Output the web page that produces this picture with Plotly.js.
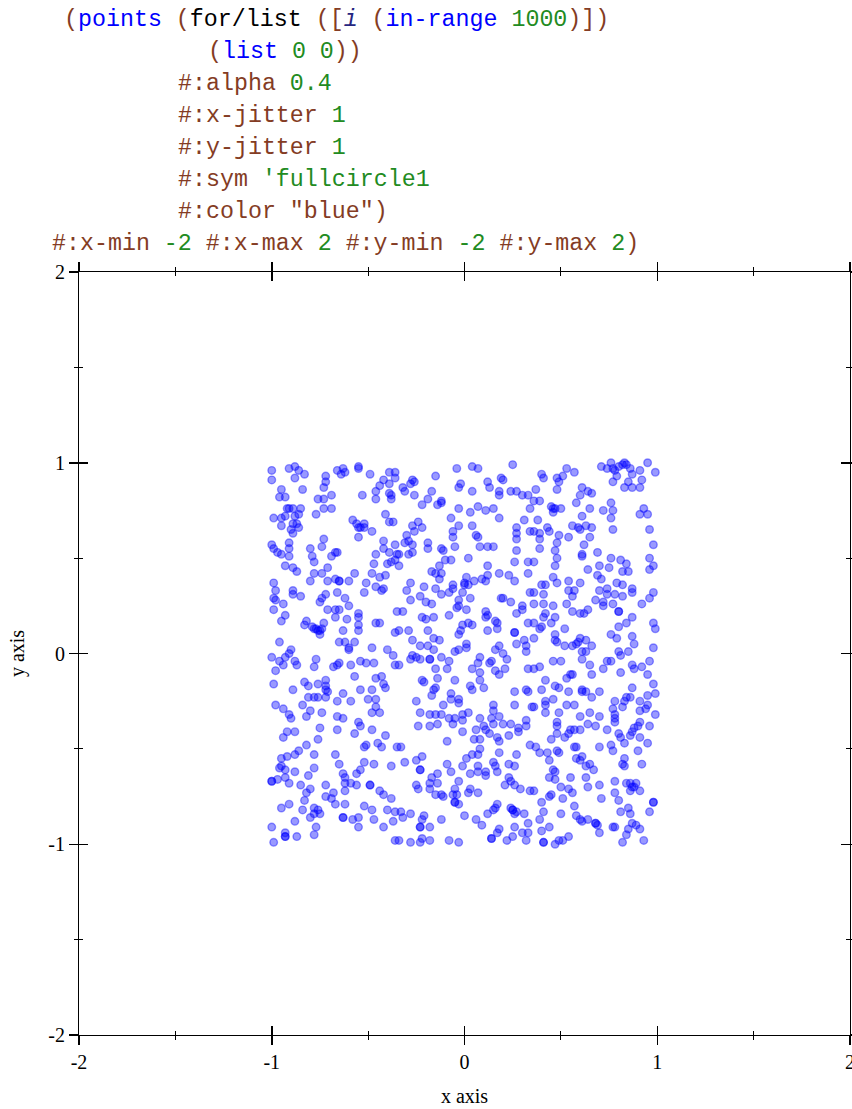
<!DOCTYPE html>
<html>
<head>
<meta charset="utf-8">
<script src="https://cdn.plot.ly/plotly-3.0.1.min.js"></script>
<style>
  html, body { margin: 0; padding: 0; background: #fff; }
  #wrap { position: relative; width: 852px; height: 1109px; overflow: hidden; }
  #plot { position: absolute; left: 0; top: 0; width: 852px; height: 1109px; }
  .code { position: absolute; white-space: pre; font-family: 'Liberation Mono', 'DejaVu Sans Mono', monospace; font-size: 23.3px; line-height: 32px; z-index: 5; }
  .pn { color: #843c24; }
  .sym { color: #0000ff; }
  .blk { color: #000000; }
  .var { color: #262680; font-style: italic; }
  .val { color: #228b22; }
</style>
</head>
<body>
<div id="wrap">
  <div id="plot"></div>
  <div class="code" style="left:64px; top:4px;"><span class="pn">(</span><span class="sym">points</span> <span class="pn">(</span><span class="blk">for/list</span> <span class="pn">([</span><span class="var">i</span> <span class="pn">(</span><span class="sym">in-range</span> <span class="val">1000</span><span class="pn">)])</span></div>
  <div class="code" style="left:208px; top:36px;"><span class="pn">(</span><span class="sym">list</span> <span class="val">0 0</span><span class="pn">))</span></div>
  <div class="code" style="left:178px; top:68px;"><span class="pn">#:alpha</span> <span class="val">0.4</span></div>
  <div class="code" style="left:178px; top:100px;"><span class="pn">#:x-jitter</span> <span class="val">1</span></div>
  <div class="code" style="left:178px; top:132px;"><span class="pn">#:y-jitter</span> <span class="val">1</span></div>
  <div class="code" style="left:178px; top:164px;"><span class="pn">#:sym</span> <span class="val">'fullcircle1</span></div>
  <div class="code" style="left:178px; top:196px;"><span class="pn">#:color "blue")</span></div>
  <div class="code" style="left:52px; top:228px;"><span class="pn">#:x-min</span> <span class="val">-2</span> <span class="pn">#:x-max</span> <span class="val">2</span> <span class="pn">#:y-min</span> <span class="val">-2</span> <span class="pn">#:y-max</span> <span class="val">2</span><span class="pn">)</span></div>
</div>
<script>
// Axis ticks
const majorTicks = [-2, -1, 0, 1, 2];
const majorLabels = ['-2', '-1', '0', '1', '2'];
const minorTicks = [-1.5, -0.5, 0.5, 1.5];

// Points, region by region: [x, y]
const topLeft = [[-1.00,0.96],[-1.00,0.91],[-0.91,0.97],[-0.88,0.98],[-0.86,0.96],[-0.83,0.94],[-0.88,0.92],[-0.72,0.93],[-0.73,0.87],[-0.72,0.90],[-0.66,0.96],[-0.63,0.97],[-0.62,0.95],[-0.64,0.94],[-0.55,0.97],[-0.55,0.98],[-0.49,0.94],[-0.39,0.95],[-0.36,0.95],[-0.42,0.91],[-0.36,0.92],[-0.44,0.88],[-0.39,0.89],[-0.46,0.85],[-0.46,0.81],[-0.39,0.84],[-0.38,0.83],[-0.38,0.81],[-0.53,0.83],[-0.84,0.86],[-0.95,0.86],[-0.96,0.82],[-0.93,0.82],[-0.69,0.83],[-0.76,0.81],[-0.73,0.81],[-0.73,0.76],[-0.69,0.76],[-0.92,0.76],[-0.91,0.76],[-0.89,0.76],[-0.85,0.76],[-0.99,0.71],[-0.95,0.71],[-0.93,0.72],[-0.88,0.72],[-0.86,0.73],[-0.77,0.73],[-0.95,0.67],[-0.89,0.68],[-0.87,0.68],[-0.90,0.65],[-0.86,0.66],[-0.89,0.63],[-0.58,0.70],[-0.56,0.68],[-0.54,0.66],[-0.52,0.68],[-0.55,0.66],[-0.52,0.66],[-0.48,0.64],[-0.55,0.61],[-0.41,0.73],[-0.39,0.69],[-0.37,0.69],[-0.73,0.60],[-1.00,0.57],[-0.99,0.55],[-0.97,0.53],[-0.95,0.52],[-0.91,0.51],[-0.91,0.58],[-0.91,0.55],[-0.80,0.55],[-0.74,0.56],[-0.79,0.51],[-0.78,0.48],[-0.69,0.51],[-0.67,0.53],[-0.66,0.53],[-0.93,0.46],[-0.89,0.45],[-0.87,0.43],[-0.78,0.42],[-0.74,0.42],[-0.71,0.45],[-0.57,0.42],[-0.48,0.42],[-0.47,0.47],[-0.46,0.52],[-0.42,0.59],[-0.42,0.55],[-0.36,0.57],[-0.39,0.53],[-0.35,0.52],[-0.38,0.48],[-0.36,0.49],[-0.40,0.47],[-0.44,0.40],[-0.41,0.41],[-0.99,0.37],[-0.80,0.38],[-0.71,0.38],[-0.67,0.39],[-0.65,0.38],[-0.65,0.38],[-0.60,0.38],[-0.51,0.37],[-0.46,0.35],[-0.42,0.34]];

const topMid = [[0.25,0.99],[-0.04,0.97],[0.04,0.98],[0.07,0.97],[-0.15,0.93],[-0.27,0.91],[-0.26,0.90],[-0.28,0.89],[-0.32,0.87],[-0.31,0.85],[-0.26,0.83],[-0.17,0.85],[-0.19,0.81],[-0.22,0.78],[-0.14,0.78],[-0.12,0.80],[-0.12,0.79],[-0.02,0.89],[-0.03,0.87],[0.04,0.85],[0.12,0.90],[0.13,0.87],[0.19,0.92],[0.20,0.91],[0.18,0.85],[0.18,0.83],[0.24,0.85],[0.27,0.85],[0.30,0.83],[0.33,0.83],[0.34,0.76],[-0.03,0.76],[0.03,0.74],[0.07,0.77],[0.11,0.75],[0.15,0.76],[0.18,0.71],[0.31,0.70],[-0.07,0.71],[-0.24,0.69],[-0.27,0.67],[-0.22,0.66],[-0.26,0.64],[-0.30,0.62],[-0.03,0.67],[-0.06,0.64],[-0.06,0.61],[0.04,0.67],[0.06,0.62],[0.07,0.61],[0.27,0.66],[0.27,0.63],[0.27,0.60],[0.34,0.64],[-0.29,0.59],[-0.31,0.58],[-0.27,0.57],[-0.19,0.58],[-0.19,0.55],[-0.12,0.55],[-0.11,0.54],[-0.05,0.56],[0.08,0.56],[0.12,0.56],[0.15,0.56],[-0.34,0.52],[-0.29,0.52],[-0.27,0.53],[-0.10,0.49],[-0.07,0.49],[0.02,0.50],[0.27,0.54],[0.26,0.48],[0.33,0.48],[-0.34,0.46],[-0.13,0.46],[-0.17,0.43],[-0.15,0.42],[-0.12,0.42],[-0.13,0.39],[0.12,0.46],[0.12,0.41],[0.18,0.42],[0.23,0.41],[0.33,0.42],[0.26,0.38],[0.01,0.40],[0.09,0.39],[0.11,0.38],[0.05,0.38],[0.00,0.37],[0.00,0.36],[0.02,0.36],[-0.06,0.36],[-0.28,0.37],[-0.21,0.35],[-0.15,0.34]];

const topRight = [[0.95,1.00],[0.99,0.95],[0.71,0.98],[0.76,1.00],[0.77,0.97],[0.78,0.96],[0.80,0.98],[0.83,1.00],[0.84,0.99],[0.82,0.99],[0.74,0.97],[0.86,0.97],[0.91,0.96],[0.87,0.94],[0.79,0.93],[0.85,0.90],[0.77,0.90],[0.83,0.87],[0.87,0.87],[0.91,0.87],[0.92,0.91],[0.53,0.97],[0.57,0.95],[0.40,0.94],[0.41,0.92],[0.48,0.92],[0.51,0.93],[0.49,0.90],[0.48,0.86],[0.37,0.86],[0.61,0.87],[0.64,0.85],[0.66,0.84],[0.60,0.83],[0.36,0.80],[0.39,0.80],[0.45,0.77],[0.47,0.76],[0.46,0.76],[0.46,0.74],[0.50,0.76],[0.58,0.79],[0.65,0.76],[0.72,0.75],[0.76,0.79],[0.77,0.75],[0.76,0.71],[0.93,0.76],[0.91,0.73],[0.95,0.73],[0.38,0.70],[0.61,0.72],[0.43,0.66],[0.44,0.64],[0.39,0.63],[0.36,0.64],[0.49,0.62],[0.56,0.67],[0.59,0.66],[0.63,0.67],[0.66,0.66],[0.60,0.65],[0.54,0.61],[0.65,0.61],[0.77,0.65],[0.96,0.65],[0.39,0.60],[0.48,0.58],[0.47,0.54],[0.39,0.55],[0.62,0.57],[0.98,0.57],[0.61,0.51],[0.61,0.52],[0.69,0.53],[0.48,0.50],[0.47,0.46],[0.76,0.50],[0.81,0.49],[0.84,0.47],[0.96,0.50],[0.98,0.46],[0.96,0.44],[0.70,0.46],[0.75,0.45],[0.64,0.44],[0.82,0.43],[0.85,0.43],[0.69,0.41],[0.71,0.39],[0.46,0.40],[0.48,0.37],[0.54,0.38],[0.60,0.37],[0.40,0.36],[0.42,0.36],[0.79,0.37],[0.82,0.36],[0.74,0.34],[0.87,0.34],[0.36,0.48]];

const midLeft = [[-0.98,0.33],[-0.89,0.33],[-0.89,0.31],[-0.85,0.30],[-0.99,0.29],[-0.98,0.28],[-0.94,0.26],[-0.99,0.23],[-0.93,0.20],[-0.95,0.17],[-0.72,0.31],[-0.74,0.29],[-0.75,0.27],[-0.66,0.32],[-0.62,0.29],[-0.60,0.25],[-0.52,0.32],[-0.43,0.33],[-0.71,0.23],[-0.67,0.23],[-0.65,0.23],[-0.67,0.19],[-0.61,0.18],[-0.55,0.21],[-0.55,0.19],[-0.55,0.15],[-0.55,0.12],[-0.46,0.16],[-0.44,0.16],[-0.35,0.22],[-0.36,0.11],[-0.82,0.17],[-0.83,0.15],[-0.79,0.14],[-0.78,0.13],[-0.77,0.13],[-0.76,0.12],[-0.75,0.12],[-0.74,0.13],[-0.73,0.16],[-0.75,0.10],[-0.63,0.12],[-0.96,0.06],[-0.65,0.06],[-0.62,0.06],[-0.57,0.06],[-0.60,0.02],[-0.60,0.03],[-0.48,0.03],[-0.40,0.02],[-0.37,-0.01],[-0.36,-0.06],[-1.00,-0.02],[-0.90,0.02],[-0.91,0.00],[-0.93,-0.02],[-0.96,-0.04],[-0.94,-0.06],[-0.88,-0.04],[-0.87,-0.06],[-0.77,-0.03],[-0.78,-0.07],[-0.68,-0.07],[-0.66,-0.06],[-0.65,-0.05],[-0.59,-0.06],[-0.54,-0.04],[-0.51,-0.05],[-0.47,-0.05],[-0.98,-0.09],[-0.57,-0.12],[-0.99,-0.16],[-0.89,-0.19],[-0.83,-0.15],[-0.81,-0.17],[-0.76,-0.16],[-0.72,-0.14],[-0.72,-0.17],[-0.72,-0.19],[-0.71,-0.20],[-0.46,-0.13],[-0.43,-0.12],[-0.42,-0.16],[-0.41,-0.18],[-0.54,-0.19],[-0.48,-0.19],[-0.63,-0.21],[-0.66,-0.25],[-0.59,-0.25],[-0.81,-0.23],[-0.78,-0.23],[-0.76,-0.23],[-0.72,-0.23],[-0.50,-0.24],[-0.46,-0.24],[-0.46,-0.28],[-0.48,-0.31],[-0.44,-0.31],[-0.98,-0.27],[-0.94,-0.29],[-0.84,-0.27],[-0.80,-0.30],[-0.74,-0.31],[-0.91,-0.32],[-0.90,-0.34],[-0.82,-0.33],[-0.66,-0.33],[-0.63,-0.34],[-0.55,-0.36]];

const midMid = [[-0.30,0.33],[-0.23,0.30],[-0.28,0.28],[-0.20,0.27],[-0.17,0.26],[-0.12,0.31],[-0.08,0.32],[-0.06,0.34],[-0.01,0.32],[0.03,0.29],[-0.03,0.28],[-0.03,0.25],[-0.04,0.24],[0.01,0.23],[0.19,0.29],[0.20,0.29],[0.24,0.27],[0.30,0.25],[0.30,0.23],[0.27,0.21],[0.34,0.32],[-0.32,0.22],[-0.22,0.19],[-0.20,0.18],[-0.16,0.19],[-0.08,0.20],[0.11,0.22],[0.12,0.20],[0.11,0.19],[0.16,0.17],[0.17,0.16],[0.17,0.13],[0.04,0.15],[0.02,0.16],[-0.01,0.15],[-0.02,0.12],[-0.03,0.10],[0.12,0.12],[0.26,0.11],[0.26,0.11],[0.33,0.16],[-0.34,0.12],[-0.29,0.12],[-0.19,0.12],[-0.27,0.07],[-0.16,0.08],[-0.13,0.07],[-0.23,0.04],[-0.19,0.04],[-0.16,0.02],[0.01,0.05],[0.01,0.03],[-0.03,0.02],[-0.05,0.01],[0.31,0.07],[0.32,0.04],[0.32,0.01],[0.27,0.05],[0.18,0.04],[0.16,0.02],[0.20,0.00],[0.22,-0.03],[-0.27,-0.01],[-0.25,-0.02],[-0.28,-0.03],[-0.23,-0.03],[-0.18,-0.03],[-0.18,-0.03],[-0.12,-0.02],[-0.08,-0.04],[0.08,-0.02],[0.07,-0.05],[0.04,-0.08],[0.13,-0.05],[0.14,-0.04],[0.16,-0.09],[0.21,-0.08],[0.33,-0.08],[-0.34,-0.06],[-0.15,-0.08],[-0.09,-0.08],[0.08,-0.10],[0.18,-0.11],[0.08,-0.14],[0.10,-0.18],[0.03,-0.17],[0.04,-0.19],[-0.14,-0.13],[-0.22,-0.14],[-0.21,-0.15],[-0.05,-0.14],[-0.15,-0.18],[-0.16,-0.19],[-0.17,-0.22],[0.26,-0.20],[0.32,-0.19],[0.33,-0.20],[-0.07,-0.21],[-0.07,-0.24],[-0.03,-0.24],[-0.03,-0.26],[-0.11,-0.27],[-0.25,-0.25],[0.15,-0.27],[0.15,-0.30],[0.26,-0.27],[0.35,-0.28],[-0.23,-0.31],[-0.18,-0.32],[-0.15,-0.32],[-0.12,-0.32],[-0.08,-0.34],[-0.05,-0.34],[-0.01,-0.32],[0.02,-0.31],[-0.01,-0.35],[0.08,-0.34],[0.14,-0.34],[0.18,-0.33],[0.32,-0.35]];

const midRight = [[0.36,0.32],[0.41,0.31],[0.54,0.33],[0.56,0.30],[0.57,0.33],[0.70,0.33],[0.74,0.31],[0.78,0.31],[0.82,0.30],[0.87,0.32],[0.98,0.32],[0.96,0.29],[0.36,0.26],[0.41,0.26],[0.46,0.25],[0.53,0.26],[0.68,0.28],[0.72,0.27],[0.72,0.25],[0.77,0.26],[0.92,0.26],[0.42,0.21],[0.41,0.19],[0.47,0.19],[0.56,0.22],[0.60,0.21],[0.62,0.21],[0.64,0.23],[0.80,0.22],[0.80,0.22],[0.87,0.19],[0.84,0.16],[0.80,0.14],[0.98,0.16],[0.99,0.13],[0.36,0.16],[0.40,0.14],[0.39,0.13],[0.45,0.16],[0.52,0.13],[0.47,0.10],[0.47,0.07],[0.48,0.06],[0.36,0.08],[0.52,0.04],[0.56,0.04],[0.58,0.05],[0.59,0.06],[0.60,0.08],[0.63,0.07],[0.66,0.04],[0.61,0.01],[0.61,-0.03],[0.63,0.01],[0.76,0.10],[0.79,0.08],[0.87,0.09],[0.88,0.05],[0.98,0.03],[0.80,0.01],[0.81,-0.01],[0.85,0.01],[0.96,-0.04],[0.46,-0.04],[0.50,-0.04],[0.39,-0.07],[0.36,-0.08],[0.65,-0.06],[0.74,-0.04],[0.76,-0.04],[0.72,-0.08],[0.87,-0.06],[0.88,-0.08],[0.92,-0.07],[0.81,-0.10],[0.95,-0.11],[0.66,-0.11],[0.53,-0.13],[0.55,-0.11],[0.56,-0.11],[0.42,-0.14],[0.47,-0.17],[0.49,-0.18],[0.40,-0.19],[0.54,-0.20],[0.61,-0.19],[0.61,-0.20],[0.63,-0.20],[0.70,-0.20],[0.87,-0.18],[0.98,-0.16],[0.99,-0.21],[0.95,-0.22],[0.46,-0.24],[0.42,-0.25],[0.42,-0.27],[0.53,-0.27],[0.57,-0.27],[0.66,-0.23],[0.78,-0.25],[0.84,-0.23],[0.86,-0.23],[0.83,-0.25],[0.82,-0.28],[0.91,-0.25],[0.95,-0.27],[0.94,-0.29],[0.36,-0.28],[0.42,-0.31],[0.49,-0.31],[0.60,-0.33],[0.65,-0.31],[0.70,-0.33],[0.77,-0.29],[0.78,-0.32],[0.78,-0.34],[0.91,-0.30],[0.99,-0.32],[0.91,-0.36],[0.48,-0.36]];

const botLeft = [[-0.75,-0.39],[-0.66,-0.40],[-0.54,-0.38],[-0.57,-0.42],[-0.48,-0.40],[-0.92,-0.41],[-0.88,-0.41],[-0.94,-0.44],[-0.76,-0.45],[-0.41,-0.43],[-0.45,-0.47],[-0.43,-0.49],[-0.52,-0.49],[-0.51,-0.48],[-0.35,-0.49],[-0.82,-0.48],[-0.86,-0.51],[-0.88,-0.53],[-0.95,-0.55],[-0.92,-0.54],[-0.78,-0.53],[-0.67,-0.53],[-0.65,-0.58],[-0.95,-0.59],[-0.96,-0.60],[-0.93,-0.61],[-0.78,-0.60],[-0.81,-0.64],[-0.88,-0.62],[-0.52,-0.57],[-0.47,-0.58],[-0.38,-0.59],[-0.54,-0.61],[-0.56,-0.63],[-0.63,-0.63],[-0.62,-0.65],[-0.62,-0.68],[-0.59,-0.68],[-0.56,-0.69],[-0.49,-0.69],[-0.49,-0.69],[-1.00,-0.67],[-1.00,-0.67],[-0.97,-0.66],[-0.93,-0.65],[-0.91,-0.68],[-0.85,-0.69],[-0.72,-0.69],[-0.80,-0.71],[-0.82,-0.73],[-0.83,-0.77],[-0.72,-0.75],[-0.68,-0.73],[-0.69,-0.76],[-0.67,-0.79],[-0.62,-0.72],[-0.62,-0.79],[-0.44,-0.72],[-0.42,-0.74],[-0.38,-0.76],[-0.91,-0.79],[-0.95,-0.81],[-0.84,-0.82],[-0.78,-0.81],[-0.76,-0.82],[-0.75,-0.84],[-0.78,-0.84],[-0.80,-0.86],[-0.52,-0.80],[-0.48,-0.82],[-0.63,-0.86],[-0.63,-0.86],[-0.58,-0.87],[-0.55,-0.86],[-0.55,-0.91],[-0.47,-0.87],[-0.40,-0.82],[-0.36,-0.83],[-0.37,-0.88],[-0.42,-0.91],[-0.88,-0.88],[-1.00,-0.91],[-0.77,-0.91],[-0.93,-0.94],[-0.93,-0.96],[-0.93,-0.96],[-0.87,-0.96],[-0.78,-0.95],[-0.99,-0.99],[-0.36,-0.98]];

const botMid = [[-0.24,-0.38],[-0.18,-0.38],[-0.14,-0.37],[-0.06,-0.37],[0.06,-0.40],[0.10,-0.38],[0.11,-0.40],[0.15,-0.37],[0.20,-0.37],[0.24,-0.37],[0.28,-0.39],[0.32,-0.38],[-0.01,-0.41],[0.13,-0.42],[0.17,-0.44],[0.18,-0.46],[0.23,-0.43],[0.28,-0.41],[0.05,-0.45],[0.08,-0.45],[-0.09,-0.46],[-0.33,-0.49],[0.34,-0.48],[0.08,-0.50],[0.07,-0.53],[0.04,-0.53],[0.01,-0.55],[0.18,-0.52],[0.27,-0.53],[-0.31,-0.57],[-0.25,-0.56],[-0.22,-0.54],[-0.23,-0.61],[-0.23,-0.61],[-0.09,-0.58],[-0.07,-0.62],[-0.01,-0.59],[0.07,-0.59],[0.07,-0.62],[0.11,-0.62],[0.11,-0.64],[0.16,-0.59],[0.17,-0.62],[0.15,-0.57],[0.23,-0.58],[0.26,-0.59],[0.03,-0.63],[-0.14,-0.63],[-0.17,-0.65],[-0.18,-0.68],[-0.14,-0.68],[-0.25,-0.69],[-0.24,-0.71],[-0.18,-0.71],[-0.03,-0.67],[-0.05,-0.71],[0.23,-0.65],[0.24,-0.67],[0.21,-0.69],[0.26,-0.69],[0.29,-0.71],[0.34,-0.72],[-0.15,-0.74],[-0.12,-0.74],[-0.11,-0.75],[-0.06,-0.74],[-0.04,-0.74],[0.02,-0.73],[0.03,-0.71],[0.07,-0.73],[-0.05,-0.78],[-0.05,-0.78],[-0.03,-0.79],[-0.33,-0.83],[-0.28,-0.84],[-0.32,-0.86],[-0.21,-0.85],[-0.22,-0.87],[-0.23,-0.91],[-0.23,-0.91],[-0.18,-0.91],[-0.12,-0.87],[0.00,-0.85],[0.06,-0.87],[0.09,-0.90],[0.12,-0.84],[0.15,-0.82],[0.17,-0.79],[0.16,-0.81],[0.24,-0.81],[0.25,-0.82],[0.25,-0.82],[0.27,-0.83],[0.26,-0.84],[0.31,-0.84],[0.33,-0.89],[0.26,-0.91],[0.18,-0.92],[0.17,-0.94],[0.30,-0.94],[0.33,-0.94],[0.25,-0.96],[0.22,-0.98],[0.32,-0.98],[0.14,-0.97],[0.14,-0.97],[-0.28,-0.99],[-0.23,-0.99],[-0.22,-0.97],[-0.18,-0.98],[-0.08,-0.98],[-0.03,-0.99],[-0.34,-0.98]];

const botRight = [[0.48,-0.38],[0.64,-0.37],[0.68,-0.38],[0.74,-0.40],[0.78,-0.36],[0.55,-0.40],[0.57,-0.40],[0.60,-0.40],[0.54,-0.42],[0.52,-0.44],[0.48,-0.42],[0.45,-0.45],[0.80,-0.42],[0.81,-0.44],[0.83,-0.47],[0.86,-0.43],[0.87,-0.41],[0.88,-0.39],[0.90,-0.38],[0.96,-0.38],[0.91,-0.44],[0.95,-0.47],[0.37,-0.49],[0.39,-0.52],[0.43,-0.52],[0.44,-0.56],[0.48,-0.51],[0.49,-0.52],[0.57,-0.49],[0.58,-0.49],[0.70,-0.49],[0.76,-0.48],[0.77,-0.51],[0.90,-0.51],[0.61,-0.54],[0.58,-0.55],[0.60,-0.56],[0.83,-0.55],[0.82,-0.58],[0.83,-0.59],[0.92,-0.58],[0.65,-0.58],[0.63,-0.59],[0.67,-0.61],[0.46,-0.61],[0.47,-0.62],[0.44,-0.65],[0.47,-0.66],[0.55,-0.65],[0.63,-0.65],[0.70,-0.69],[0.64,-0.70],[0.50,-0.70],[0.54,-0.71],[0.56,-0.73],[0.45,-0.74],[0.44,-0.75],[0.51,-0.76],[0.36,-0.72],[0.78,-0.67],[0.84,-0.68],[0.86,-0.68],[0.89,-0.68],[0.87,-0.70],[0.86,-0.72],[0.88,-0.70],[0.91,-0.72],[0.78,-0.73],[0.80,-0.77],[0.71,-0.76],[0.40,-0.78],[0.57,-0.80],[0.98,-0.78],[0.98,-0.78],[0.41,-0.83],[0.50,-0.84],[0.81,-0.83],[0.85,-0.81],[0.86,-0.84],[0.96,-0.83],[0.58,-0.85],[0.60,-0.87],[0.61,-0.88],[0.64,-0.87],[0.39,-0.87],[0.68,-0.89],[0.68,-0.89],[0.69,-0.90],[0.77,-0.91],[0.78,-0.91],[0.87,-0.89],[0.89,-0.90],[0.91,-0.92],[0.85,-0.92],[0.84,-0.95],[0.40,-0.93],[0.44,-0.91],[0.54,-0.96],[0.70,-0.94],[0.41,-0.99],[0.41,-0.99],[0.47,-1.00],[0.49,-0.98],[0.51,-0.98],[0.82,-0.99],[0.93,-0.98]];

const regions = [topLeft, topMid, topRight, midLeft, midMid, midRight, botLeft, botMid, botRight];
const allPts = [].concat(...regions);
const xs = allPts.map(p => p[0]);
const ys = allPts.map(p => p[1]);

const serif = 'Liberation Serif, DejaVu Serif, serif';
const blue = 'rgba(0,0,255,0.4)';

const traces = [
  {
    type: 'scatter', mode: 'markers', x: xs, y: ys,
    marker: { size: 7.6, color: blue, line: { color: blue, width: 1.4 } },
    hoverinfo: 'skip', showlegend: false
  },
  { type: 'scatter', mode: 'markers', x: [], y: [], xaxis: 'x2', yaxis: 'y2', showlegend: false, hoverinfo: 'skip' }
];

const baseAxis = {
  range: [-2, 2],
  tickmode: 'array', tickvals: majorTicks, ticktext: majorLabels,
  tickcolor: '#000', tickwidth: 1.5, ticklen: 9,
  showgrid: false, zeroline: false,
  ticklabeloverflow: 'allow',
  tickfont: { family: serif, size: 20, color: '#000' },
};

const layout = {
  width: 852, height: 1109,
  margin: { l: 79, r: 2, t: 272, b: 74, pad: 0 },
  paper_bgcolor: '#fff', plot_bgcolor: '#fff',
  showlegend: false,
  xaxis: Object.assign({}, baseAxis, {
    ticks: 'outside', mirror: 'ticks', showline: true, linecolor: '#000', linewidth: 1,
    minor: { tickvals: minorTicks, ticks: 'outside', ticklen: 4, tickwidth: 1, tickcolor: '#000' },
    title: { text: 'x axis', font: { family: serif, size: 20, color: '#000' }, standoff: 16 },
    automargin: false
  }),
  yaxis: Object.assign({}, baseAxis, {
    ticks: 'outside', mirror: 'ticks', showline: true, linecolor: '#000', linewidth: 1,
    minor: { tickvals: minorTicks, ticks: 'outside', ticklen: 4, tickwidth: 1, tickcolor: '#000' },
    title: { text: 'y axis', font: { family: serif, size: 20, color: '#000' }, standoff: 18 },
    automargin: false
  }),
  xaxis2: Object.assign({}, baseAxis, {
    overlaying: 'x', anchor: 'y2', ticks: 'inside', mirror: 'ticks', showline: false,
    showticklabels: false,
    minor: { tickvals: minorTicks, ticks: 'inside', ticklen: 4, tickwidth: 1, tickcolor: '#000' }
  }),
  yaxis2: Object.assign({}, baseAxis, {
    overlaying: 'y', anchor: 'x2', ticks: 'inside', mirror: 'ticks', showline: false,
    showticklabels: false,
    minor: { tickvals: minorTicks, ticks: 'inside', ticklen: 4, tickwidth: 1, tickcolor: '#000' }
  })
};

Plotly.newPlot('plot', traces, layout, { staticPlot: true, displayModeBar: false });
</script>
</body>
</html>
